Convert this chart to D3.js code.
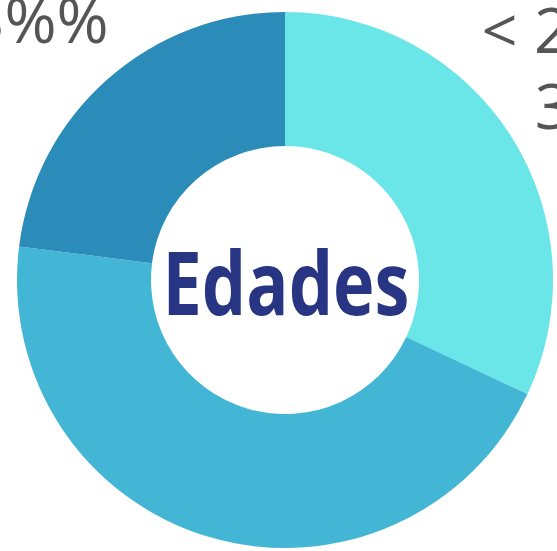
<!DOCTYPE html>
<html>
<head>
<meta charset="utf-8">
<script src="https://cdn.jsdelivr.net/npm/d3@7"></script>
<style>
  html, body { margin: 0; padding: 0; background: #fff; overflow: hidden; }
  #chart { width: 557px; height: 551px; }
</style>
</head>
<body>
<div id="chart"></div>
<script>
'use strict';

// age groups and their share (%)
const categories = ['< 25 años', '25 - 45 años', '> 45 años'];
const values = [32, 45, 23];
const colors = ['#6ae5e8', '#43b6d5', '#2b8bb9'];
const title = 'Edades';

let width = 557, height = 551;
let cx = 285, cy = 280;
let outerR = 268, innerR = 134, labelR = 400;

let svg = d3.select('#chart')
  .append('svg').attr('width', width).attr('height', height);
let graph = svg.append('g').attr('transform', 'translate(' + cx + ',' + cy + ')');

let data = categories.map((c, i) => ({ name: c, value: values[i], color: colors[i] }));
let pie = d3.pie().sort(null).value(d => d.value);
let arc = d3.arc().innerRadius(innerR).outerRadius(outerR);
let labelArc = d3.arc().innerRadius(labelR).outerRadius(labelR);

graph.selectAll('path.slice').data(pie(data)).enter()
  .append('path')
  .attr('class', 'slice')
  .attr('d', arc)
  .attr('fill', d => d.data.color);

// labels outside the ring (mostly cut off by the frame)
let labels = graph.selectAll('text.label').data(pie(data)).enter()
  .append('text')
  .attr('class', 'label')
  .attr('transform', d => 'translate(' + labelArc.centroid(d) + ')')
  .attr('text-anchor', 'middle')
  .style('font-family', '"Open Sans", sans-serif')
  .style('font-size', '63px')
  .style('fill', '#555');
labels.append('tspan').attr('x', 0).attr('y', -13).text(d => d.data.name);
labels.append('tspan').attr('x', 0).attr('y', 63).text(d => d.data.value + '%%');

graph.append('text')
  .attr('x', 1).attr('y', 35)
  .attr('text-anchor', 'middle')
  .attr('textLength', 247)
  .attr('lengthAdjust', 'spacingAndGlyphs')
  .style('font-family', '"Open Sans", sans-serif')
  .style('font-weight', 'bold')
  .style('font-size', '87px')
  .style('fill', '#283583')
  .text(title);
</script>
</body>
</html>
